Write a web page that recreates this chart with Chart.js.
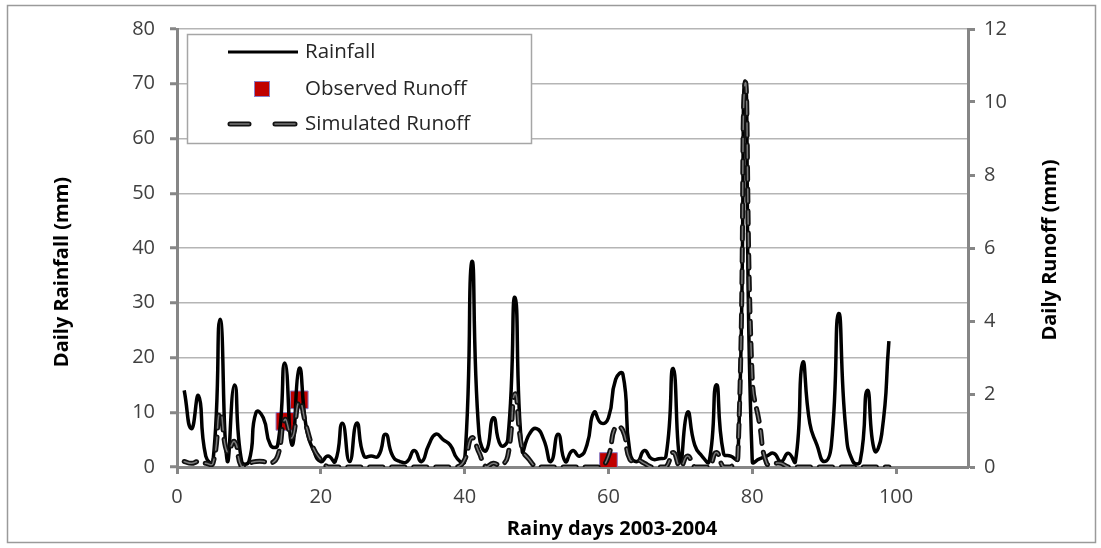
<!DOCTYPE html>
<html><head><meta charset="utf-8">
<script src="https://cdn.jsdelivr.net/npm/chart.js@4.4.1/dist/chart.umd.min.js"></script>
<style>html,body{margin:0;padding:0;background:#fff;overflow:hidden}#wrap{width:1101px;height:548px;position:relative}</style>
</head><body><div id="wrap"><canvas id="c" width="1101" height="548"></canvas></div>
<script>
// ---- data ----
const days = [1,2,3,4,5,6,7,8,9,10,11,12,13,14,15,16,17,18,19,20,21,22,23,24,25,26,27,28,29,30,31,32,33,34,35,36,37,38,39,40,41,42,43,44,45,46,47,48,49,50,51,52,53,54,55,56,57,58,59,60,61,62,63,64,65,66,67,68,69,70,71,72,73,74,75,76,77,78,79,80,81,82,83,84,85,86,87,88,89,90,91,92,93,94,95,96,97,98,99];
const rainfall = [14,7,13,2,1,27,1,15,1,1,10,9,4,4,19,4,18,7,3,1,2,1,8,1,8,2,2,2,6,2,1,1,3,1,4,6,5,4,1.5,1,37.5,6,3,9,4,5,31,3,6,7,5,1,6,1,3,2,4,10,8,9,16,17,2.5,1,3,1.5,1.5,2,18,1,10,4,2,1,15,2.5,2,1.5,70.5,1,1.5,2,2.5,1,2.5,1,19,8,4,1,4,28,7,1,1,14,3,6,23];
const simulatedRunoff = [0.15,0.1,0.15,0.1,0.1,1.5,0.4,0.7,0,0.1,0.15,0.15,0.1,0.3,1.3,0.8,1.8,1.1,0.5,0.2,0,0,0,0,0,0,0,0,0,0,0,0,0,0,0,0,0,0,0,0.2,0.8,0.4,0,0.1,0.05,0.3,2.0,0.5,0.2,0,0,0,0,0,0,0,0,0,0,0.3,1.1,1.0,0.2,0.2,0.1,0,0,0,0.4,0,0.3,0,0,0,0.4,0,0,0.3,10.5,2.4,1.2,0.1,0.1,0.1,0,0,0,0,0,0,0,0,0,0,0,0,0,0,0];
const observedDays = [15,17,60];
const observedRunoff = [1.25,1.84,0.15];
const xTickValues = [0,20,40,60,80,100];
const rainTickValues = [0,10,20,30,40,50,60,70,80];
const runoffTickValues = [0,2,4,6,8,10,12];
const seriesNames = ['Rainfall','Observed Runoff','Simulated Runoff'];
const axisTitles = {x:'Rainy days 2003-2004', y:'Daily Rainfall (mm)', y1:'Daily Runoff (mm)'};

// ---- build ----
const rainPts = days.map((d,i)=>({x:d,y:rainfall[i]}));
const simPts = days.map((d,i)=>({x:d,y:simulatedRunoff[i]}));
const obsPts = observedDays.map((d,i)=>({x:d,y:observedRunoff[i]}));

const FONT = '"Open Sans", "DejaVu Sans", sans-serif';
const AX = '#868686';
const TICKC = '#404040';
const DASH = [13,9];

function setTicks(vals){ return function(scale){ scale.ticks = vals.map(v=>({value:v})); }; }

const decor = {
  id:'decor',
  beforeDraw(chart){
    const ctx = chart.ctx;
    ctx.save();
    ctx.fillStyle = '#fff';
    ctx.fillRect(0,0,chart.width,chart.height);
    ctx.strokeStyle = '#9a9a9a';
    ctx.lineWidth = 1.5;
    ctx.strokeRect(7.5,5.5,1088,537);
    ctx.restore();
  },
  afterDraw(chart){
    const ctx = chart.ctx;
    ctx.save();
    // axis titles
    ctx.fillStyle = '#000';
    ctx.font = 'bold 20px ' + FONT;
    ctx.textAlign = 'center';
    ctx.textBaseline = 'middle';
    ctx.fillText(axisTitles.x, 612, 529);
    ctx.save(); ctx.translate(62, 272); ctx.rotate(-Math.PI/2); ctx.fillText(axisTitles.y, 0, 0); ctx.restore();
    ctx.save(); ctx.translate(1050, 250); ctx.rotate(-Math.PI/2); ctx.fillText(axisTitles.y1, 0, 0); ctx.restore();
    // legend
    const bx = 187.5, by = 34.5, bw = 344, bh = 109;
    ctx.fillStyle = '#fff';
    ctx.fillRect(bx,by,bw,bh);
    ctx.strokeStyle = '#a6a6a6';
    ctx.lineWidth = 1.5;
    ctx.strokeRect(bx,by,bw,bh);
    const ds = chart.data.datasets;
    ctx.font = '20.5px ' + FONT;
    ctx.textAlign = 'left';
    ctx.fillStyle = '#262626';
    // rainfall
    ctx.strokeStyle = ds[0].borderColor; ctx.lineWidth = 3; ctx.lineCap='butt';
    ctx.beginPath(); ctx.moveTo(228,52); ctx.lineTo(298,52); ctx.stroke();
    ctx.fillText(ds[0].label, 305, 52);
    // observed
    ctx.fillStyle = ds[3].backgroundColor; ctx.fillRect(254,81,16,16);
    ctx.strokeStyle = ds[3].borderColor; ctx.lineWidth = 1; ctx.strokeRect(254.5,81.5,15,15);
    ctx.fillStyle = '#262626';
    ctx.fillText(ds[3].label, 305, 89);
    // simulated
    ctx.lineCap = 'round';
    [ds[1], ds[2]].forEach((d)=>{
      ctx.strokeStyle = d.borderColor; ctx.lineWidth = d.borderWidth;
      ctx.beginPath(); ctx.moveTo(230,124); ctx.lineTo(249,124); ctx.moveTo(275,124); ctx.lineTo(295,124); ctx.stroke();
    });
    ctx.fillStyle = '#262626';
    ctx.fillText(ds[1].label, 305, 124);
    ctx.restore();
  }
};

new Chart(document.getElementById('c'), {
  type:'line',
  data:{datasets:[
    {label:seriesNames[0], data:rainPts, yAxisID:'y', borderColor:'#000', borderWidth:3.5, tension:0.55, pointRadius:0, fill:false, order:3},
    {label:seriesNames[2], data:simPts, yAxisID:'y1', borderColor:'#111', borderWidth:5, borderDash:DASH, borderCapStyle:'round', tension:0.5, pointRadius:0, fill:false, order:2},
    {label:seriesNames[2]+' ', data:simPts, yAxisID:'y1', borderColor:'#7a7a7a', borderWidth:1.5, borderDash:DASH, borderCapStyle:'round', tension:0.5, pointRadius:0, fill:false, order:1},
    {type:'scatter', label:seriesNames[1], data:obsPts, yAxisID:'y1', backgroundColor:'#C00000', borderColor:'#8a7fc8', borderWidth:1, pointStyle:'rect', pointRadius:12.5, order:4}
  ]},
  options:{
    responsive:false, animation:false, devicePixelRatio:1,
    layout:{padding:{top:29,left:0,right:0,bottom:0}},
    plugins:{legend:{display:false}, tooltip:{enabled:false}},
    scales:{
      x:{type:'linear', min:0, max:110, afterBuildTicks:setTicks(xTickValues),
         afterFit(s){ s.height = 81; },
         grid:{drawOnChartArea:false, drawTicks:true, tickLength:7, tickColor:AX, tickWidth:3},
         border:{color:AX, width:3},
         ticks:{color:TICKC, font:{family:FONT, size:20}, padding:11, maxRotation:0}},
      y:{type:'linear', position:'left', min:0, max:80, afterBuildTicks:setTicks(rainTickValues),
         afterFit(s){ s.width = 177; },
         grid:{color:'#b5b5b5', lineWidth:1.5, drawTicks:true, tickLength:7, tickColor:AX, tickWidth:3},
         border:{color:AX, width:3},
         ticks:{color:TICKC, font:{family:FONT, size:20}, padding:15}},
      y1:{type:'linear', position:'right', min:0, max:12, afterBuildTicks:setTicks(runoffTickValues),
         afterFit(s){ s.width = 133; },
         grid:{drawOnChartArea:false, drawTicks:true, tickLength:7, tickColor:AX, tickWidth:3},
         border:{color:AX, width:3},
         ticks:{color:TICKC, font:{family:FONT, size:20}, padding:9}}
    }
  },
  plugins:[decor]
});
</script></body></html>
